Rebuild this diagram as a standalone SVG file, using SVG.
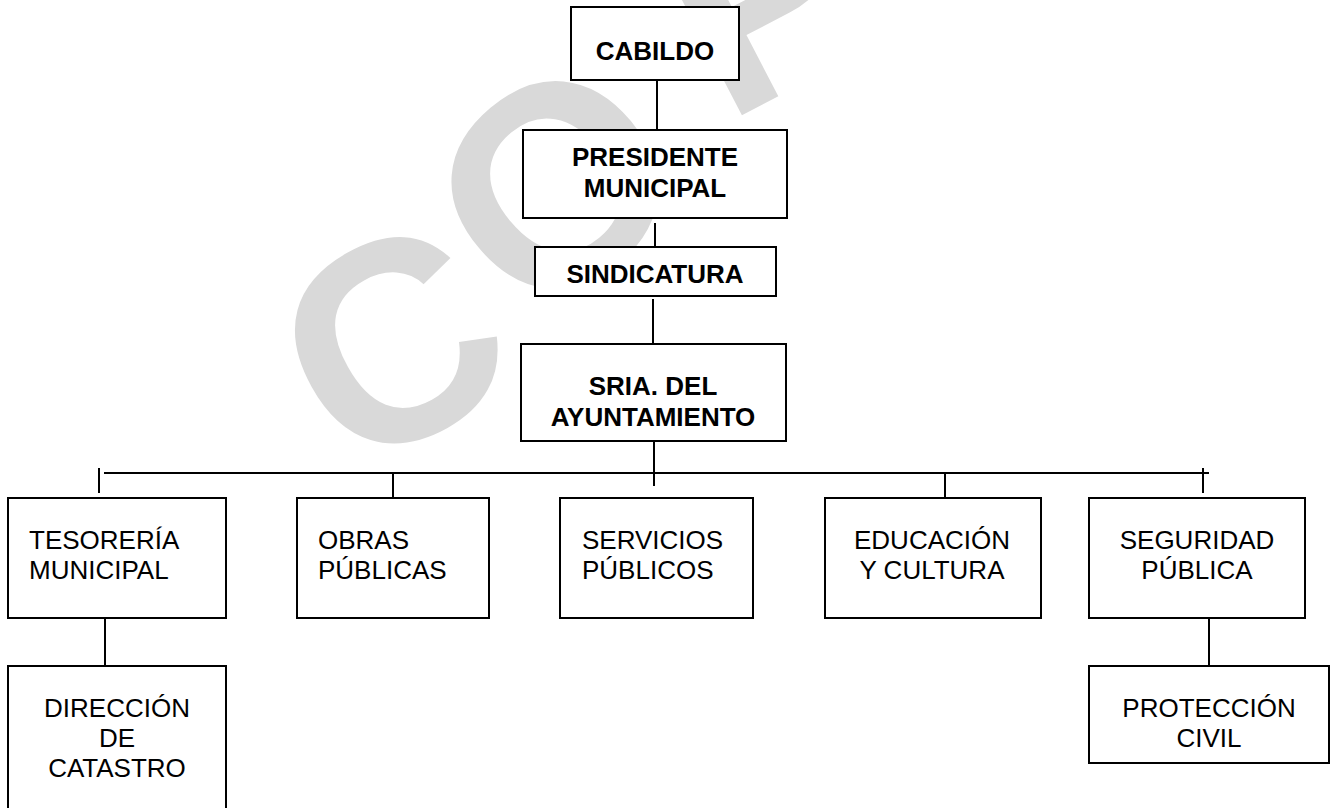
<svg xmlns="http://www.w3.org/2000/svg" width="1331" height="808" viewBox="0 0 1331 808">
<style>
.box{fill:#fff;stroke:#000;stroke-width:2}
.ln{stroke:#000;stroke-width:2;fill:none}
.b{font-family:"Liberation Sans",Arial,sans-serif;font-size:26px;font-weight:bold;fill:#000}
.r{font-family:"Liberation Sans",Arial,sans-serif;font-size:26px;fill:#000}
.m{text-anchor:middle}
.wm{font-family:"Liberation Sans",Arial,sans-serif;font-size:285px;font-weight:bold;fill:#d9d9d9}
</style>
<rect width="1331" height="808" fill="#fff"/>
<g id="watermark">
<text class="wm" text-anchor="middle" transform="translate(390,340) rotate(-29)" y="102">C</text>
<text class="wm" text-anchor="middle" transform="translate(553,182) rotate(-40)" y="102">O</text>
<text class="wm" transform="translate(725,124) rotate(-27.5)">P</text>
</g>
<g id="connectors">
<line class="ln" x1="657" y1="80" x2="657" y2="130"/>
<line class="ln" x1="655" y1="223" x2="655" y2="247"/>
<line class="ln" x1="653" y1="299" x2="653" y2="344"/>
<line class="ln" x1="654" y1="441" x2="654" y2="486"/>
<line class="ln" x1="104" y1="473" x2="1209" y2="473"/>
<line class="ln" x1="99" y1="468" x2="99" y2="493"/>
<line class="ln" x1="393" y1="473" x2="393" y2="498"/>
<line class="ln" x1="945" y1="473" x2="945" y2="498"/>
<line class="ln" x1="1203" y1="468" x2="1203" y2="493"/>
<line class="ln" x1="105" y1="618" x2="105" y2="666"/>
<line class="ln" x1="1209" y1="618" x2="1209" y2="666"/>
</g>
<g id="cabildo">
<rect class="box" x="571" y="7" width="168" height="73"/>
<text class="b m" x="655" y="60">CABILDO</text>
</g>
<g id="presidente">
<rect class="box" x="523" y="130" width="264" height="88"/>
<text class="b m" x="655" y="166">PRESIDENTE</text>
<text class="b m" x="655" y="197">MUNICIPAL</text>
</g>
<g id="sindicatura">
<rect class="box" x="535" y="247" width="241" height="49"/>
<text class="b m" x="655" y="283">SINDICATURA</text>
</g>
<g id="sria">
<rect class="box" x="521" y="344" width="265" height="97"/>
<text class="b m" x="653" y="395">SRIA. DEL</text>
<text class="b m" x="653" y="426">AYUNTAMIENTO</text>
</g>
<g id="tesoreria">
<rect class="box" x="8" y="498" width="218" height="120"/>
<text class="r" x="29" y="549">TESORERÍA</text>
<text class="r" x="29" y="579">MUNICIPAL</text>
</g>
<g id="obras">
<rect class="box" x="297" y="498" width="192" height="120"/>
<text class="r" x="318" y="549">OBRAS</text>
<text class="r" x="318" y="579">PÚBLICAS</text>
</g>
<g id="servicios">
<rect class="box" x="560" y="498" width="193" height="120"/>
<text class="r" x="582" y="549">SERVICIOS</text>
<text class="r" x="582" y="579">PÚBLICOS</text>
</g>
<g id="educacion">
<rect class="box" x="825" y="498" width="216" height="120"/>
<text class="r m" x="932" y="549">EDUCACIÓN</text>
<text class="r m" x="932" y="579">Y CULTURA</text>
</g>
<g id="seguridad">
<rect class="box" x="1089" y="498" width="216" height="120"/>
<text class="r m" x="1197" y="549">SEGURIDAD</text>
<text class="r m" x="1197" y="579">PÚBLICA</text>
</g>
<g id="direccion">
<rect class="box" x="8" y="666" width="218" height="160"/>
<text class="r m" x="117" y="717">DIRECCIÓN</text>
<text class="r m" x="117" y="747">DE</text>
<text class="r m" x="117" y="777">CATASTRO</text>
</g>
<g id="proteccion">
<rect class="box" x="1089" y="666" width="240" height="97"/>
<text class="r m" x="1209" y="717">PROTECCIÓN</text>
<text class="r m" x="1209" y="747">CIVIL</text>
</g>
</svg>
